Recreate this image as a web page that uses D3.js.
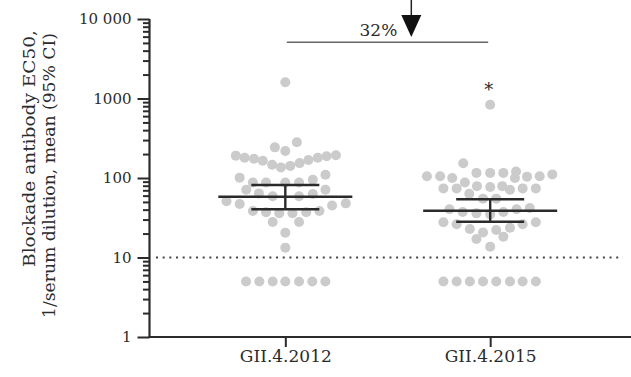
<!DOCTYPE html>
<html><head><meta charset="utf-8">
<script src="https://cdn.jsdelivr.net/npm/d3@7"></script>
<style>
html,body{margin:0;padding:0;background:#fff;}
svg{display:block;}
</style></head>
<body>
<svg id="chart" width="631" height="377"></svg>
<script>
// ---- data ----
const categories = ["GII.4.2012", "GII.4.2015"];
const values2012 = [1600,281,243,219,191,180,175,165,147,136,142,154,168,180,188,193,
  101,88,88,88,88,95,110,71,64,59,59,63,71,51,47,38.5,37,36,36,37,38.5,45,48,28,28,20.5,13.3,
  5,5,5,5,5,5,5];
const jitter2012 = [0,1.05,-0.95,0,-4.5,-3.7,-2.85,-2.05,-1.2,-0.4,0.45,1.3,2.1,2.95,3.75,4.6,
  -4.15,-2.95,-1.75,0,1.25,2.5,3.65,-3.55,-2.4,-1.15,1.25,2.5,3.65,-5.35,-4.15,-2.95,-1.75,-0.55,0.65,1.9,3.1,4.25,5.5,-1.15,1.25,0,0,
  -3.57,-2.36,-1.15,0,1.25,2.45,3.64];
const values2015 = [836,153,105,105,100,116,116,116,121,100,104,105,111,88,74,74,79,77,79,71,74,74,
  63.5,55,55,40.4,37.3,35.9,34.9,37.3,40.4,42,27.7,26.2,22.8,20.7,22.2,23.7,26.2,27.7,17.1,18.3,13.7,
  5,5,5,5,5,5,5,5];
const jitter2015 = [0,-2.45,-5.75,-4.55,-3.45,-1.25,0,1.2,2.35,2.25,3.35,4.5,5.65,-2.3,-4.25,-3.05,-1.2,0,1.1,1.8,2.95,4.15,
  -1.9,-0.65,0.55,-3.7,-2.5,-1.25,0,1.2,2.4,3.6,-4.25,-3.05,-1.85,-0.65,0.55,1.8,2.95,4.15,-1.25,1.2,0,
  -4.25,-3.05,-1.85,-0.65,0.55,1.8,2.95,4.15];
const means = [58, 38.8];
const ciLow = [40.4, 28.2];
const ciHigh = [81.7, 54];
const yTickValues = [1, 10, 100, 1000, 10000];
const yTickLabels = ["1", "10", "100", "1000", "10 000"];
const threshold = 10;
const reductionLabel = "32%";
const significantOutlier = {category: "GII.4.2015", value: 836};
const yTitle = ["Blockade antibody EC50,", "1/serum dilution, mean (95% CI)"];

// ---- layout ----
const svg = d3.select("#chart");
const FONT = "'DejaVu Serif', 'Liberation Serif', serif";
const TXT = "#2b2b2b";
const axisX0 = 149.5, axisX1 = 631, yTop = 19, yBot = 337;
const x = d3.scalePoint().domain(categories).range([axisX0, 626]).padding(0.663);
const y = d3.scaleLog().domain([1, 10000]).range([yBot, yTop]);
const jitterUnit = 11, dotR = 5;

// y axis minor ticks
const minor = [];
for (let e = 0; e < 4; e++) for (let m = 2; m <= 9; m++) minor.push(m * Math.pow(10, e));
const gMinor = svg.append("g").attr("transform", `translate(${axisX0},0)`)
  .call(d3.axisLeft(y).tickValues(minor).tickSize(6.5).tickFormat(""));
gMinor.select(".domain").remove();
gMinor.selectAll("line").attr("stroke", TXT).attr("stroke-width", 2);

const gy = svg.append("g").attr("transform", `translate(${axisX0},0)`)
  .call(d3.axisLeft(y).tickValues(yTickValues).tickSize(12).tickPadding(6)
    .tickFormat((d, i) => yTickLabels[i]));
gy.select(".domain").attr("stroke", TXT).attr("stroke-width", 2.2).attr("d", `M0,${yTop}V${yBot}`);
gy.selectAll("line").attr("stroke", TXT).attr("stroke-width", 2);
gy.selectAll("text").attr("font-family", FONT).attr("font-size", 15).attr("fill", TXT);

// x axis
const gx = svg.append("g").attr("transform", `translate(0,${yBot})`)
  .call(d3.axisBottom(x).tickSize(10).tickPadding(3));
gx.select(".domain").attr("stroke", TXT).attr("stroke-width", 2.2).attr("d", `M${axisX0 - 1},0H${axisX1}`);
gx.selectAll("line").attr("stroke", TXT).attr("stroke-width", 2);
gx.selectAll("text").attr("font-family", FONT).attr("font-size", 17).attr("fill", TXT);

// threshold dotted line
svg.append("line")
  .attr("x1", 156).attr("x2", 623).attr("y1", y(threshold)).attr("y2", y(threshold))
  .attr("stroke", "#444").attr("stroke-width", 2).attr("stroke-dasharray", "2 4.67");

// dots
const groups = [
  {cat: categories[0], vals: values2012, jit: jitter2012},
  {cat: categories[1], vals: values2015, jit: jitter2015}
];
groups.forEach(g => {
  svg.append("g").selectAll("circle").data(g.vals).join("circle")
    .attr("cx", (d, i) => x(g.cat) + g.jit[i] * jitterUnit)
    .attr("cy", d => y(d))
    .attr("r", dotR)
    .attr("fill", "#cbcbcb");
});

// mean & CI bars
const gBars = svg.append("g").attr("stroke", "#2a2a2a").attr("stroke-width", 2.4);
categories.forEach((c, i) => {
  const cx = x(c);
  gBars.append("line").attr("x1", cx - 67).attr("x2", cx + 67).attr("y1", y(means[i])).attr("y2", y(means[i]));
  gBars.append("line").attr("x1", cx - 34).attr("x2", cx + 34).attr("y1", y(ciHigh[i])).attr("y2", y(ciHigh[i]));
  gBars.append("line").attr("x1", cx - 34).attr("x2", cx + 34).attr("y1", y(ciLow[i])).attr("y2", y(ciLow[i]));
  gBars.append("line").attr("x1", cx).attr("x2", cx).attr("y1", y(ciLow[i])).attr("y2", y(ciHigh[i]));
});

// asterisk
svg.append("text").attr("x", x(significantOutlier.category) - 1.5).attr("y", y(significantOutlier.value) - 9)
  .attr("text-anchor", "middle").attr("font-family", FONT).attr("font-size", 18).attr("fill", TXT).text("*");

// comparison bracket with reduction label and arrow
const bY = 42.3;
svg.append("line").attr("x1", x(categories[0]) + 1.5).attr("x2", x(categories[1]) - 2)
  .attr("y1", bY).attr("y2", bY).attr("stroke", "#666").attr("stroke-width", 1.6);
const ax = x(categories[0]) + 0.615 * (x(categories[1]) - x(categories[0]));
svg.append("text").attr("x", ax - 14).attr("y", 36).attr("text-anchor", "end")
  .attr("font-family", FONT).attr("font-size", 17).attr("fill", TXT).text(reductionLabel);
svg.append("line").attr("x1", ax).attr("x2", ax).attr("y1", 0).attr("y2", 17)
  .attr("stroke", "#222").attr("stroke-width", 1.5);
svg.append("path").attr("d", `M${ax - 10},15L${ax + 10},15L${ax},37Z`).attr("fill", "#111");

// y title
const tPos = [[29, 148.5, 237], [49.5, 175.5, 285]];
yTitle.forEach((t, i) => {
  svg.append("text")
    .attr("transform", `translate(${tPos[i][0]},${tPos[i][1]}) rotate(-90)`)
    .attr("text-anchor", "middle").attr("dy", "0.35em")
    .attr("textLength", tPos[i][2]).attr("lengthAdjust", "spacingAndGlyphs")
    .attr("font-family", FONT).attr("font-size", 17).attr("fill", TXT).text(t);
});
</script>
</body></html>
